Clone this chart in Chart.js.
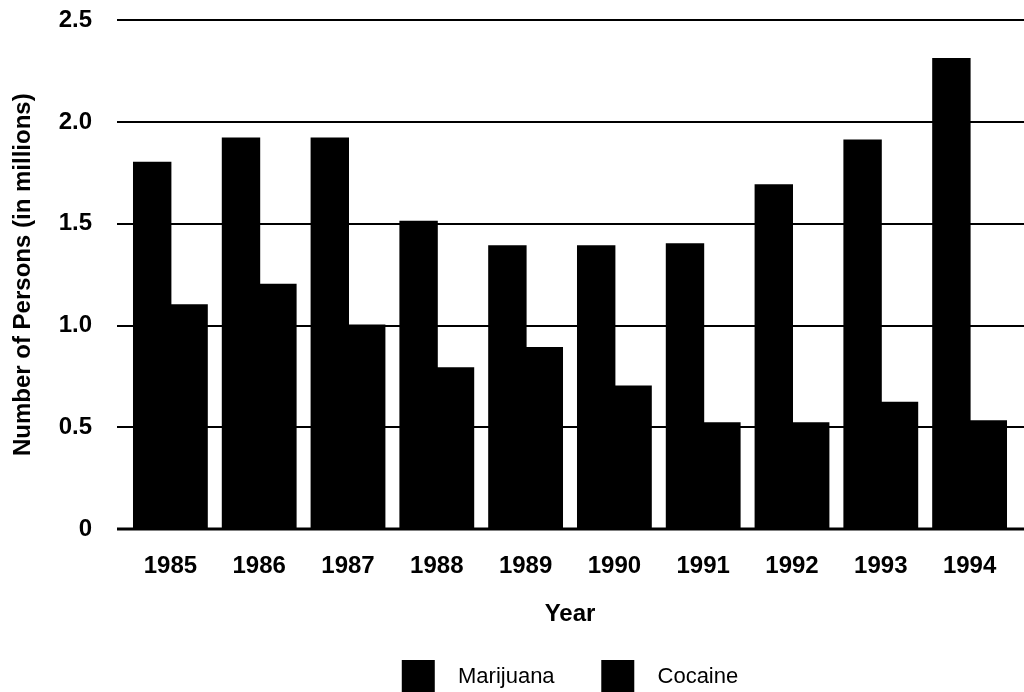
<!DOCTYPE html>
<html>
<head>
<meta charset="utf-8">
<script src="https://cdn.jsdelivr.net/npm/chart.js@4.4.0/dist/chart.umd.min.js"></script>
<style>
  html, body { margin: 0; padding: 0; background: #fff; overflow: hidden; }
  #wrap { width: 1024px; height: 732px; margin-top: -28px; position: relative; }
</style>
</head>
<body>
<div id="wrap"><canvas id="chart"></canvas></div>
<script>
const years = ["1985", "1986", "1987", "1988", "1989", "1990", "1991", "1992", "1993", "1994"];
const marijuana = [1.80, 1.92, 1.92, 1.51, 1.39, 1.39, 1.40, 1.69, 1.91, 2.31];
const cocaine = [1.10, 1.20, 1.00, 0.79, 0.89, 0.70, 0.52, 0.52, 0.62, 0.53];
const yTicks = [0, 0.5, 1.0, 1.5, 2.0, 2.5];

const FONT = "'Liberation Sans', Arial, sans-serif";

// horizontal rules run past the plot area on both sides, like the print
const rules = {
  id: "rules",
  beforeDatasetsDraw(chart) {
    const { ctx, chartArea, scales } = chart;
    ctx.save();
    ctx.strokeStyle = "#000";
    yTicks.forEach(v => {
      const y = Math.round(scales.y.getPixelForValue(v));
      ctx.lineWidth = v === 0 ? 3 : 2;
      ctx.beginPath();
      ctx.moveTo(chartArea.left - 9, y);
      ctx.lineTo(chart.width, y);
      ctx.stroke();
    });
    ctx.restore();
  }
};

new Chart(document.getElementById("chart"), {
  type: "bar",
  data: {
    labels: years,
    datasets: [
      { label: "Marijuana", data: marijuana, backgroundColor: "#000", borderWidth: 0, inflateAmount: 1 },
      { label: "Cocaine", data: cocaine, backgroundColor: "#000", borderWidth: 0, inflateAmount: 1 }
    ]
  },
  options: {
    responsive: true,
    maintainAspectRatio: false,
    animation: false,
    layout: { padding: { top: 8, left: 4, right: 10, bottom: 0 } },
    datasets: { bar: { categoryPercentage: 0.82, barPercentage: 1.0 } },
    scales: {
      x: {
        grid: { display: false, drawTicks: false },
        border: { display: false },
        afterFit: scale => { scale.height = 121; },
        ticks: { color: "#000", padding: 23, font: { family: FONT, size: 24, weight: "bold" } },
        title: {
          display: true, text: "Year", color: "#000",
          padding: { top: 10, bottom: 21 },
          font: { family: FONT, size: 24, weight: "bold" }
        }
      },
      y: {
        min: 0, max: 2.5,
        grid: { display: false, drawTicks: false },
        border: { display: false },
        afterBuildTicks: scale => { scale.ticks = yTicks.map(v => ({ value: v })); },
        afterFit: scale => { scale.width = 122; },
        ticks: {
          color: "#000", padding: 34,
          font: { family: FONT, size: 24, weight: "bold" },
          callback: v => v === 0 ? "0" : Number(v).toFixed(1)
        },
        title: {
          display: true, text: "Number of Persons (in millions)", color: "#000",
          padding: { top: 5, bottom: 10 },
          font: { family: FONT, size: 24, weight: "bold" }
        }
      }
    },
    plugins: {
      tooltip: { enabled: false },
      legend: {
        position: "bottom",
        fullSize: false,
        labels: {
          color: "#000",
          boxWidth: 33, boxHeight: 34, padding: 10,
          font: { family: FONT, size: 22 },
          generateLabels: chart => chart.data.datasets.map((ds, i) => ({
            text: "  " + ds.label + (i === 0 ? "      " : ""),
            fillStyle: "#000", strokeStyle: "#000", lineWidth: 0,
            fontColor: "#000", datasetIndex: i, hidden: false
          }))
        }
      }
    }
  },
  plugins: [rules]
});
</script>
</body>
</html>
